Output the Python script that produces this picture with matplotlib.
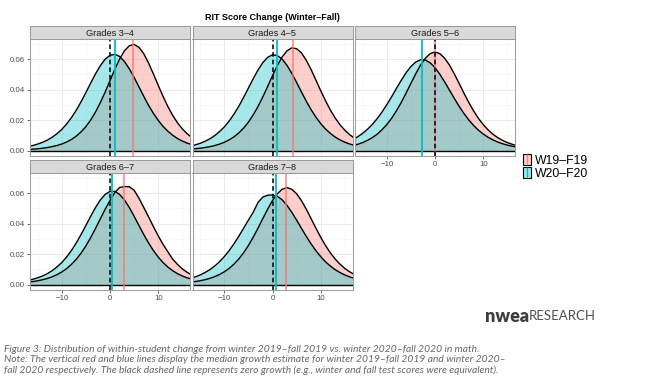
import numpy as np
import matplotlib.pyplot as plt
from matplotlib.patches import Patch
from matplotlib.lines import Line2D

plt.rcParams['font.family'] = ['Liberation Sans', 'DejaVu Sans']

## data: density on a 1-point grid ##
x_grid = np.arange(-17, 18)

d34_w19 = [0.00078, 0.00098, 0.00124, 0.00159, 0.00205, 0.00264, 0.00339, 0.00437, 0.00567,
           0.00736, 0.00955, 0.01233, 0.01580, 0.02012, 0.02540, 0.03158, 0.03849, 0.04593,
           0.05338, 0.06019, 0.06556, 0.06886, 0.06975, 0.06785, 0.06366, 0.05757, 0.05042,
           0.04296, 0.03566, 0.02899, 0.02317, 0.01830, 0.01434, 0.01113, 0.00860]
d34_w20 = [0.00269, 0.00339, 0.00432, 0.00547, 0.00692, 0.00880, 0.01113, 0.01396, 0.01750,
           0.02168, 0.02656, 0.03213, 0.03814, 0.04440, 0.05046, 0.05582, 0.06008, 0.06257,
           0.06326, 0.06184, 0.05851, 0.05380, 0.04810, 0.04188, 0.03571, 0.02981, 0.02453,
           0.01993, 0.01599, 0.01279, 0.01013, 0.00799, 0.00631, 0.00498, 0.00391]
d45_w19 = [0.00101, 0.00128, 0.00161, 0.00205, 0.00262, 0.00334, 0.00428, 0.00549, 0.00707,
           0.00908, 0.01162, 0.01478, 0.01872, 0.02348, 0.02903, 0.03535, 0.04220, 0.04923,
           0.05586, 0.06153, 0.06552, 0.06749, 0.06694, 0.06421, 0.05939, 0.05328, 0.04641,
           0.03941, 0.03277, 0.02672, 0.02148, 0.01703, 0.01347, 0.01053, 0.00821]
d45_w20 = [0.00301, 0.00381, 0.00483, 0.00614, 0.00777, 0.00985, 0.01246, 0.01557, 0.01941,
           0.02393, 0.02912, 0.03492, 0.04108, 0.04724, 0.05300, 0.05785, 0.06125, 0.06291,
           0.06245, 0.06010, 0.05604, 0.05078, 0.04481, 0.03859, 0.03253, 0.02698, 0.02204,
           0.01778, 0.01424, 0.01135, 0.00895, 0.00707, 0.00558, 0.00439, 0.00346]
d56_w19 = [0.00332, 0.00421, 0.00533, 0.00678, 0.00859, 0.01084, 0.01370, 0.01714, 0.02125,
           0.02616, 0.03170, 0.03778, 0.04417, 0.05044, 0.05618, 0.06070, 0.06368, 0.06480,
           0.06368, 0.06070, 0.05618, 0.05044, 0.04417, 0.03778, 0.03170, 0.02616, 0.02125,
           0.01714, 0.01370, 0.01084, 0.00859, 0.00678, 0.00533, 0.00421, 0.00332]
d56_w20 = [0.00740, 0.00919, 0.01142, 0.01407, 0.01724, 0.02103, 0.02534, 0.03019, 0.03540,
           0.04084, 0.04620, 0.05113, 0.05523, 0.05817, 0.05967, 0.05951, 0.05766, 0.05454,
           0.05018, 0.04515, 0.03974, 0.03435, 0.02918, 0.02443, 0.02022, 0.01658, 0.01348,
           0.01096, 0.00880, 0.00709, 0.00568, 0.00456, 0.00365, 0.00295, 0.00238]
d67_w19 = [0.00162, 0.00203, 0.00256, 0.00323, 0.00408, 0.00517, 0.00658, 0.00834, 0.01054,
           0.01332, 0.01666, 0.02069, 0.02548, 0.03093, 0.03692, 0.04326, 0.04954, 0.05527,
           0.06050, 0.06380, 0.06440, 0.06430, 0.06200, 0.05680, 0.05073, 0.04452, 0.03819,
           0.03210, 0.02650, 0.02160, 0.01680, 0.01330, 0.01040, 0.00810, 0.00630]
d67_w20 = [0.00280, 0.00355, 0.00450, 0.00570, 0.00724, 0.00917, 0.01160, 0.01455, 0.01814,
           0.02241, 0.02739, 0.03293, 0.03887, 0.04493, 0.05069, 0.05561, 0.05923, 0.06125,
           0.06125, 0.05923, 0.05561, 0.05069, 0.04493, 0.03887, 0.03293, 0.02739, 0.02241,
           0.01814, 0.01455, 0.01160, 0.00917, 0.00724, 0.00570, 0.00450, 0.00355]
d78_w19 = [0.00164, 0.00206, 0.00258, 0.00327, 0.00414, 0.00524, 0.00666, 0.00845, 0.01066,
           0.01347, 0.01685, 0.02089, 0.02572, 0.03116, 0.03714, 0.04342, 0.04958, 0.05522,
           0.05967, 0.06260, 0.06370, 0.06260, 0.05967, 0.05522, 0.04958, 0.04342, 0.03714,
           0.03116, 0.02572, 0.02089, 0.01685, 0.01347, 0.01066, 0.00845, 0.00666]
d78_w20 = [0.00411, 0.00513, 0.00638, 0.00796, 0.00985, 0.01224, 0.01504, 0.01842, 0.02233,
           0.02681, 0.03174, 0.03701, 0.04237, 0.04753, 0.05400, 0.05750, 0.05870, 0.05890,
           0.05801, 0.05574, 0.05208, 0.04753, 0.04237, 0.03701, 0.03174, 0.02681, 0.02233,
           0.01842, 0.01504, 0.01224, 0.00985, 0.00796, 0.00638, 0.00513, 0.00411]

grades = ["Grades 3\u20134", "Grades 4\u20135", "Grades 5\u20136", "Grades 6\u20137", "Grades 7\u20138"]
dens_w19 = [d34_w19, d45_w19, d56_w19, d67_w19, d78_w19]
dens_w20 = [d34_w20, d45_w20, d56_w20, d67_w20, d78_w20]
median_w19 = [4.8, 4.2, -0.1, 3.0, 2.7]
median_w20 = [1.1, 1.0, -2.8, 0.5, 0.75]
series = ["W19\u2013F19", "W20\u2013F20"]

title = "RIT Score Change (Winter\u2013Fall)"
caption = [
    "Figure 3: Distribution of within-student change from winter 2019\u2013fall 2019 vs. winter 2020\u2013fall 2020 in math.",
    "Note: The vertical red and blue lines display the median growth estimate for winter 2019\u2013fall 2019 and winter 2020\u2013",
    "fall 2020 respectively. The black dashed line represents zero growth (e.g., winter and fall test scores were equivalent).",
]

RED = "#F8766D"
CYAN = "#00BFC4"
W, H = 650, 388


def px(l, t, w, h):
    """pixel box (from top left) -> figure fraction rect"""
    return [l / W, 1 - (t + h) / H, w / W, h / H]


fig = plt.figure(figsize=(6.5, 3.88), dpi=100)

col_left = [30, 192.5, 355]
row_top = [39, 173]
pw, ph, sh = 160, 117, 13
slots = [(0, 0), (0, 1), (0, 2), (1, 0), (1, 1)]

for i, (r, c) in enumerate(slots):
    l, t = col_left[c], row_top[r]
    ax = fig.add_axes(px(l, t, pw, ph))
    ax.set_xlim(-16.6, 16.6)
    ax.set_ylim(-0.0035, 0.0733)
    ax.set_xticks([-10, 0, 10])
    ax.set_xticks([-15, -5, 5, 15], minor=True)
    ax.set_yticks([0, 0.02, 0.04, 0.06])
    ax.set_yticks([0.01, 0.03, 0.05, 0.07], minor=True)
    ax.set_yticklabels(["0.00", "0.02", "0.04", "0.06"])
    ax.grid(which="major", color="#EBEBEB", lw=0.7)
    ax.grid(which="minor", color="#F4F4F4", lw=0.4)
    ax.set_axisbelow(True)

    ax.fill_between(x_grid, dens_w19[i], color=RED, alpha=0.35, lw=0)
    ax.fill_between(x_grid, dens_w20[i], color=CYAN, alpha=0.35, lw=0)
    ax.plot(x_grid, dens_w19[i], color="black", lw=1.0)
    ax.plot(x_grid, dens_w20[i], color="black", lw=1.0)
    ax.axhline(0, color="black", lw=1.0)
    ax.axvline(median_w19[i], color=RED, lw=1.3, alpha=0.75)
    ax.axvline(median_w20[i], color=CYAN, lw=1.3)
    ax.axvline(0, color="black", lw=1.1, ls=(0, (3, 2)))

    for s in ax.spines.values():
        s.set_color("#999999")
        s.set_linewidth(0.7)
    ax.tick_params(which="both", length=2, width=0.5, color="#333333",
                   labelsize=5.7, labelcolor="#4D4D4D", pad=1.5)
    ax.tick_params(which="minor", length=0)
    bottom = (r == 1) or (c == 2)
    ax.tick_params(axis="x", bottom=bottom, labelbottom=bottom)
    ax.tick_params(axis="y", left=(c == 0), labelleft=(c == 0))

    # facet strip
    sax = fig.add_axes(px(l, t - sh, pw, sh))
    sax.set_facecolor("#D9D9D9")
    sax.set_xticks([])
    sax.set_yticks([])
    for s in sax.spines.values():
        s.set_color("#999999")
        s.set_linewidth(0.7)
    sax.text(0.5, 0.45, grades[i], transform=sax.transAxes, ha="center", va="center",
             fontsize=6.6, color="#1A1A1A")

fig.text(272 / W, 1 - 18 / H, title, ha="center", va="center", fontsize=6.5, weight="bold")

handles = [
    (Patch(facecolor=RED, alpha=0.35, edgecolor="none"),
     Patch(facecolor="none", edgecolor="black", lw=0.8),
     Line2D([], [], color=RED, marker="|", ls="none", markersize=7, alpha=0.75)),
    (Patch(facecolor=CYAN, alpha=0.35, edgecolor="none"),
     Patch(facecolor="none", edgecolor="black", lw=0.8),
     Line2D([], [], color=CYAN, marker="|", ls="none", markersize=7)),
]
fig.legend(handles, series, loc="upper left", bbox_to_anchor=(523 / W, 1 - 154 / H),
           frameon=False, fontsize=8.8, handlelength=0.65, handleheight=1.0,
           handletextpad=0.3, labelspacing=0.05, borderaxespad=0, borderpad=0)

# logo
fig.text(485 / W, 1 - 316 / H, "nwea", fontsize=13, weight="heavy", family="Lato",
         color="#3d3d3d", ha="left", va="center")
fig.text(529 / W, 1 - 316 / H, "RESEARCH", fontsize=9.5, weight="normal", family="Lato",
         color="#505050", ha="left", va="center")

# caption
for k, line in enumerate(caption):
    fig.text(4 / W, 1 - (349 + 10.7 * k) / H, line, fontsize=7.4, style="italic",
             family="Lato", color="#666666", ha="left", va="center")

fig.savefig("out.png", dpi=100)
